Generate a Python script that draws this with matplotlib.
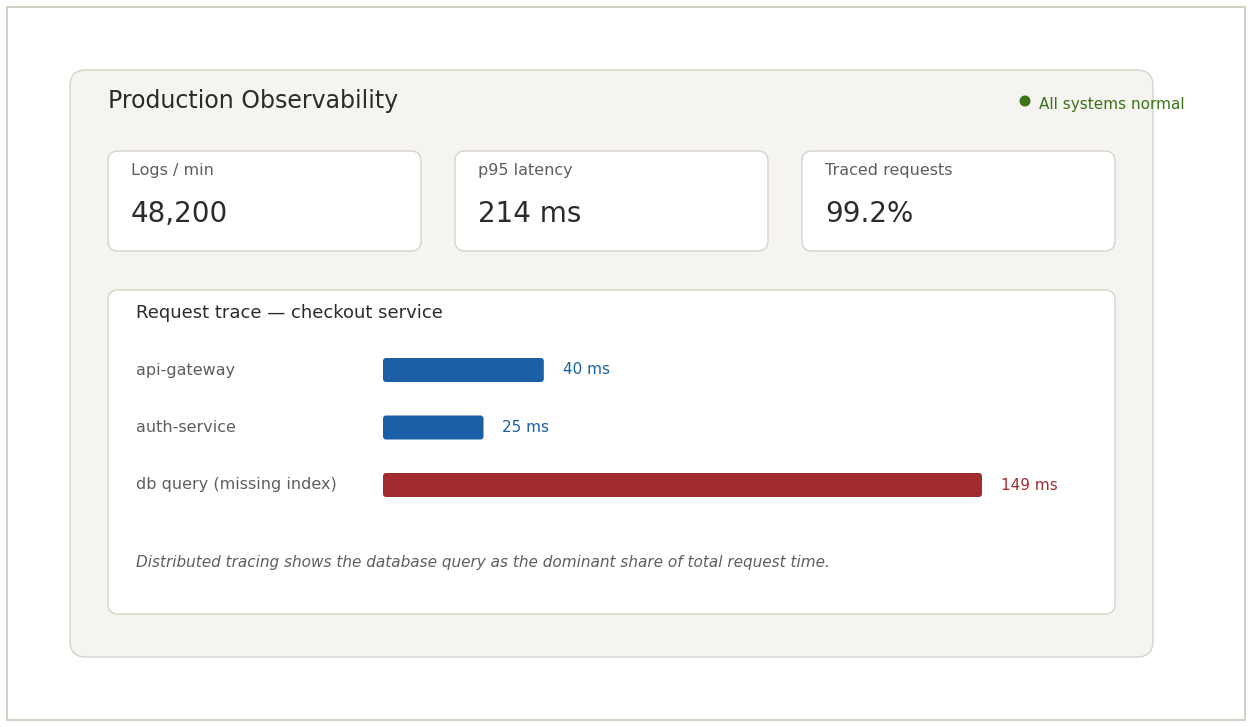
import matplotlib
matplotlib.use("Agg")
import matplotlib.pyplot as plt
from matplotlib.patches import FancyBboxPatch, Rectangle, Circle

# ----------------------------
# Data
# ----------------------------
title = "Production Observability"
status = "All systems normal"

kpi_labels = ["Logs / min", "p95 latency", "Traced requests"]
kpi_values = ["48,200", "214 ms", "99.2%"]

trace_title = "Request trace \u2014 checkout service"
stages = ["api-gateway", "auth-service", "db query (missing index)"]
durations_ms = [40, 25, 149]
caption = "Distributed tracing shows the database query as the dominant share of total request time."

# ----------------------------
# Style
# ----------------------------
W, H = 1252, 727
BORDER = "#d6d3cb"
PANEL = "#f5f4f1"
DARK = "#2b2b2b"
GRAY = "#5e5e5e"
GREEN = "#3b7416"
BLUE = "#1b5fa6"
RED = "#a22c2d"
bar_colors = [BLUE, BLUE, RED]

fig = plt.figure(figsize=(W / 100, H / 100), dpi=100)
fig.patch.set_facecolor("white")

# pixel-space canvas for panels and text
ax = fig.add_axes([0, 0, 1, 1])
ax.set_xlim(0, W)
ax.set_ylim(H, 0)
ax.axis("off")


def rbox(x0, y0, x1, y1, r, fc, ec=BORDER, lw=1.0, z=1):
    ax.add_patch(FancyBboxPatch((x0 + r, y0 + r), x1 - x0 - 2 * r, y1 - y0 - 2 * r,
                                boxstyle=f"round,pad={r}", fc=fc, ec=ec, lw=lw, zorder=z))


# outer frame
ax.add_patch(Rectangle((7, 7), W - 14, H - 14, fc="white", ec="#d3d1c6", lw=1.5, zorder=0))

# main panel
rbox(70, 70, 1153, 657, 16, PANEL, z=1)
ax.text(108, 101, title, fontsize=17, color=DARK, va="center", ha="left", zorder=5)
ax.add_patch(Circle((1025, 101), 5.5, fc=GREEN, ec="none", zorder=5))
ax.text(1039, 105, status, fontsize=11, color=GREEN, va="center", ha="left", zorder=5)

# KPI cards
card_x = [108, 455, 802]
for x0, lab, val in zip(card_x, kpi_labels, kpi_values):
    rbox(x0, 151, x0 + 313, 251, 10, "white", z=2)
    ax.text(x0 + 23, 170, lab, fontsize=11.5, color=GRAY, va="center", ha="left", zorder=5)
    ax.text(x0 + 23, 214, val, fontsize=20, color=DARK, va="center", ha="left", zorder=5)

# trace panel
rbox(108, 290, 1115, 614, 10, "white", z=2)
ax.text(136, 313, trace_title, fontsize=13, color=DARK, va="center", ha="left", zorder=5)
ax.text(136, 562, caption, fontsize=11, color=GRAY, style="italic", va="center", ha="left", zorder=5)

# ----------------------------
# Bars (own axes, ms scale)
# ----------------------------
px_per_ms = 4.02
row_px = 57.5
bx0, bx1 = 383, 1090
row_y0 = 370
top_px = row_y0 - row_px / 2
bot_px = top_px + row_px * len(stages)
bax = fig.add_axes([bx0 / W, 1 - bot_px / H, (bx1 - bx0) / W, (bot_px - top_px) / H])
bax.set_xlim(0, (bx1 - bx0) / px_per_ms)
bax.set_ylim(len(stages) - 0.5, -0.5)
bax.axis("off")
bax.patch.set_alpha(0)

bar_h = 24 / row_px
radius_ms = 3 / px_per_ms
bars = bax.barh(range(len(stages)), durations_ms, height=bar_h, color=bar_colors)
for b in bars:
    b.set_visible(False)
    bax.add_patch(FancyBboxPatch((b.get_x(), b.get_y()), b.get_width(), b.get_height(),
                                 boxstyle=f"round,pad=0,rounding_size={radius_ms}",
                                 mutation_aspect=px_per_ms / row_px,
                                 fc=b.get_facecolor(), ec="none", zorder=3))

for i, (name, v, c) in enumerate(zip(stages, durations_ms, bar_colors)):
    bax.annotate(f"{v} ms", (v, i), xytext=(19 * 0.72, 0), textcoords="offset points",
                 fontsize=11, color=c, va="center", ha="left")
    ax.text(136, row_y0 + i * row_px, name, fontsize=11.5, color=GRAY, va="center", ha="left", zorder=5)

fig.savefig("out.png", dpi=100)
